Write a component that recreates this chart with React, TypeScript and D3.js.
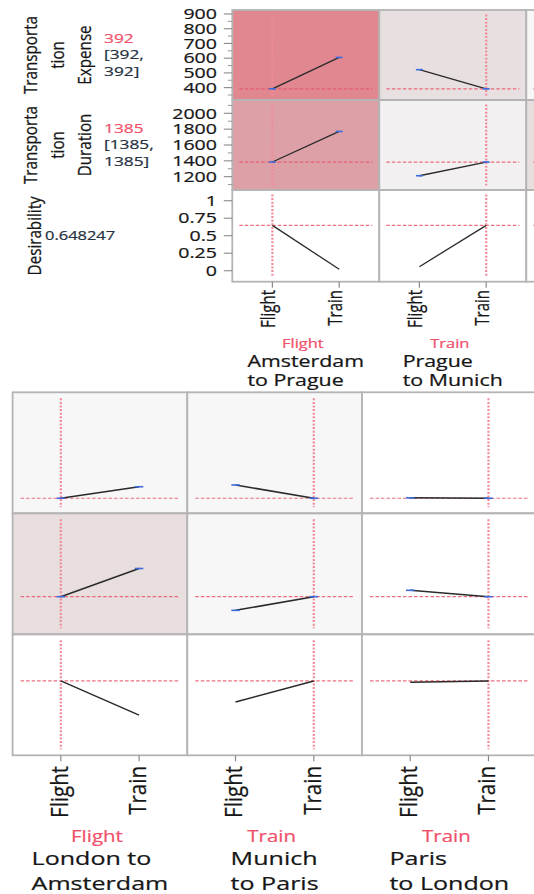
import React from "react";
import * as d3 from "d3";

// Route options and the profiler responses
const factorLines = [
  ["Amsterdam", "to Prague"],
  ["Prague", "to Munich"],
  ["London to", "Amsterdam"],
  ["Munich", "to Paris"],
  ["Paris", "to London"],
];
const modes = ["Flight", "Train"];
const currentMode = ["Flight", "Train", "Flight", "Train", "Train"];
const responseLines = [
  ["Transporta", "tion", "Expense"],
  ["Transporta", "tion", "Duration"],
  ["Desirability"],
];

// Predicted response per factor level [Flight, Train]
const expense = [[392, 605], [522, 392], [392, 450], [459, 392], [394, 392]];
const duration = [[1385, 1771], [1212, 1385], [1385, 1650], [1257, 1385], [1445, 1385]];
const desirability = [[0.648247, 0.02], [0.057, 0.648247], [0.648247, 0.278], [0.419, 0.648247], [0.633, 0.648247]];

const currentExpense = 392;
const currentDuration = 1385;
const currentDesirability = 0.648247;

const expenseDomain = [316, 927];
const durationDomain = [1032, 2168];
const desirabilityDomain = [-0.157, 1.153];

const expenseTicks = [400, 500, 600, 700, 800, 900];
const expenseMinor = [350, 450, 550, 650, 750, 850];
const durationTicks = [1200, 1400, 1600, 1800, 2000];
const durationMinor = [1100, 1300, 1500, 1700, 1900, 2100];
const desirabilityTicks = [0, 0.25, 0.5, 0.75, 1];
const desirabilityTickLabels = ["0", "0.25", "0.5", "0.75", "1"];

// Cell shading (rows: expense, duration, desirability; columns: factors)
const cellFill = [
  ["#e0878f", "#e8dfe0", "#f7f7f7", "#f7f7f7", "#ffffff"],
  ["#dca0a6", "#f3f0f1", "#e8dede", "#f7f7f7", "#ffffff"],
  ["#ffffff", "#ffffff", "#ffffff", "#ffffff", "#ffffff"],
];

const FONT = '"Open Sans", "Noto Sans", sans-serif';
const RED = "#f0506a";
const INK = "#161616";

let ctx: CanvasRenderingContext2D | null = null;
function measure(text: string, size: number) {
  if (!ctx) ctx = document.createElement("canvas").getContext("2d");
  if (!ctx) return text.length * size * 0.55;
  ctx.font = `${size}px "Open Sans"`;
  return ctx.measureText(text).width;
}

type TP = {
  x: number; y: number; sx?: number; rot?: boolean; anchor?: string;
  size: number; fill?: string; dy?: string; children: React.ReactNode;
};
const T = ({ x, y, sx = 1, rot = false, anchor = "start", size, fill = INK, dy, children }: TP) => (
  <text
    transform={`translate(${x},${y}) scale(${sx},1)${rot ? " rotate(-90)" : ""}`}
    textAnchor={anchor as any}
    fontSize={size}
    fill={fill}
    stroke={fill}
    strokeWidth={0.22}
    dy={dy}
    fontFamily={FONT}
  >
    {children}
  </text>
);

type Cfg = {
  x0: number; y0: number; colW: number; rowH: number[]; pad: number; cols: number[]; labelCols: number;
  insetX: number; insetY: number; mark: number; lineW: number;
  tickFont: number; tickSx: number; tickTop: number; tickDy: string;
  modeFont: number; modeSx: number; modeBase: number;
  nameFont: number; nameSx: number; nameBase: number; nameGap: number;
};

const rowData = [expense, duration, desirability];
const rowCurrent = [currentExpense, currentDuration, currentDesirability];
const rowDomain = [expenseDomain, durationDomain, desirabilityDomain];

function Section({ cfg }: { cfg: Cfg }) {
  const x = d3.scalePoint<string>().domain(modes).range([0, cfg.colW]).padding(cfg.pad);
  const tops = cfg.rowH.map((_, i) => cfg.y0 + d3.sum(cfg.rowH.slice(0, i)));
  const bottom = cfg.y0 + d3.sum(cfg.rowH);
  const ys = cfg.rowH.map((h, i) =>
    d3.scaleLinear().domain(rowDomain[i]).range([tops[i] + h, tops[i]])
  );
  const line = d3.line<[number, number]>().x((d) => d[0]).y((d) => d[1]);

  return (
    <g>
      {cfg.cols.map((f, ci) => {
        const px = cfg.x0 + ci * cfg.colW;
        const cx = px + (x(currentMode[f]) as number);
        const labelled = ci < cfg.labelCols;
        return (
          <g key={f}>
            {cfg.rowH.map((h, r) => {
              const y = ys[r];
              const pts: [number, number][] = modes.map((m, k) => [px + (x(m) as number), y(rowData[r][f][k])]);
              return (
                <g key={r}>
                  <rect x={px} y={tops[r]} width={cfg.colW} height={h} fill={cellFill[r][f]} />
                  <line x1={px + cfg.insetX} x2={px + cfg.colW - cfg.insetX} y1={y(rowCurrent[r])} y2={y(rowCurrent[r])}
                    stroke="#e8566b" strokeWidth={1.2} strokeDasharray="3.5 2" opacity={0.85} />
                  <line x1={cx} x2={cx} y1={tops[r] + cfg.insetY} y2={tops[r] + h - cfg.insetY}
                    stroke="#f08c9a" strokeWidth={2.2} strokeDasharray="2 1.6" />
                  <path d={line(pts) || ""} stroke="#2a2a2a" strokeWidth={cfg.lineW} fill="none" />
                  {r < 2 && pts.map((p, k) => (
                    <line key={k} x1={p[0] - cfg.mark} x2={p[0] + cfg.mark} y1={p[1]} y2={p[1]} stroke="#3d6be0" strokeWidth={1.6} />
                  ))}
                </g>
              );
            })}
            {cfg.rowH.map((h, r) => (
              <rect key={"b" + r} x={px} y={tops[r]} width={cfg.colW} height={h} fill="none" stroke="#b4b4b4" strokeWidth={1.8} />
            ))}
            {labelled && modes.map((m) => {
              const tx = px + (x(m) as number);
              return (
                <g key={m}>
                  <line x1={tx} x2={tx} y1={bottom} y2={bottom + 6} stroke="#8a8a8a" strokeWidth={1.2} />
                  <T x={tx} y={cfg.tickTop} rot sx={cfg.tickSx} anchor="end" size={cfg.tickFont} dy={cfg.tickDy}>{m}</T>
                </g>
              );
            })}
            {labelled && (
              <T x={px + cfg.colW / 2 - 3} y={cfg.modeBase} sx={cfg.modeSx} anchor="middle" size={cfg.modeFont} fill={RED}>
                {currentMode[f]}
              </T>
            )}
            {labelled && (() => {
              const w = d3.max(factorLines[f], (s) => measure(s, cfg.nameFont)) as number;
              const left = px + cfg.colW / 2 - (w * cfg.nameSx) / 2;
              return factorLines[f].map((s, k) => (
                <T key={k} x={left} y={cfg.nameBase + k * cfg.nameGap} sx={cfg.nameSx} size={cfg.nameFont}>{s}</T>
              ));
            })()}
          </g>
        );
      })}
    </g>
  );
}

const topCfg: Cfg = {
  x0: 232.3, y0: 10, colW: 147, rowH: [90, 90, 91.7], pad: 0.6, cols: [0, 1, 2], labelCols: 2,
  insetX: 7, insetY: 4.5, mark: 3.5, lineW: 1.3,
  tickFont: 15, tickSx: 1.33, tickTop: 290, tickDy: "0.12em",
  modeFont: 12, modeSx: 1.37, modeBase: 348,
  nameFont: 15.5, nameSx: 1.38, nameBase: 367, nameGap: 19.4,
};

const bottomCfg: Cfg = {
  x0: 12.6, y0: 392.3, colW: 174.7, rowH: [121, 121, 121], pad: 0.616, cols: [2, 3, 4], labelCols: 3,
  insetX: 8, insetY: 6, mark: 4.2, lineW: 1.5,
  tickFont: 20.5, tickSx: 1.12, tickTop: 766, tickDy: "0.3em",
  modeFont: 16.5, modeSx: 1.24, modeBase: 842,
  nameFont: 19, nameSx: 1.32, nameBase: 865, nameGap: 24.5,
};

function YAxis() {
  const { x0, y0, rowH } = topCfg;
  const tops = rowH.map((_, i) => y0 + d3.sum(rowH.slice(0, i)));
  const ys = rowH.map((h, i) => d3.scaleLinear().domain(rowDomain[i]).range([tops[i] + h, tops[i]]));
  const major = [expenseTicks, durationTicks, desirabilityTicks];
  const minor = [expenseMinor, durationMinor, [] as number[]];
  const labels = [expenseTicks.map(String), durationTicks.map(String), desirabilityTickLabels];
  return (
    <g>
      {major.map((ticks, r) => (
        <g key={r}>
          {ticks.map((t, k) => (
            <g key={t}>
              <line x1={x0 - 8.5} x2={x0} y1={ys[r](t)} y2={ys[r](t)} stroke="#8a8a8a" strokeWidth={1.1} />
              <T x={217} y={ys[r](t)} sx={1.35} anchor="end" size={14.5} dy="0.36em">{labels[r][k]}</T>
            </g>
          ))}
          {minor[r].map((t) => (
            <line key={"m" + t} x1={x0 - 4.5} x2={x0} y1={ys[r](t)} y2={ys[r](t)} stroke="#9a9a9a" strokeWidth={1} />
          ))}
        </g>
      ))}
    </g>
  );
}

function ResponseLabels() {
  const { y0, rowH } = topCfg;
  const tops = rowH.map((_, i) => y0 + d3.sum(rowH.slice(0, i)));
  const centers = [[31.5, 58.2, 85], [31.5, 58.2, 85], [35]];
  const valueTexts = [
    [String(currentExpense), `[${currentExpense},`, `${currentExpense}]`],
    [String(currentDuration), `[${currentDuration},`, `${currentDuration}]`],
  ];
  const valueBase = [[42.5, 59, 75.5], [132.5, 149, 165.5]];
  return (
    <g>
      {responseLines.map((lines, r) => (
        <g key={r}>
          {lines.map((s, k) => (
            <T key={k} x={centers[r][k]} y={tops[r] + rowH[r] / 2} rot sx={1.25} anchor="middle" size={15.2} dy="0.3em">{s}</T>
          ))}
        </g>
      ))}
      {valueTexts.map((vals, r) =>
        vals.map((s, k) => (
          <T key={r + "-" + k} x={104} y={valueBase[r][k]} sx={1.28} size={13.5} fill={k === 0 ? RED : "#243040"}>{s}</T>
        ))
      )}
      <T x={45} y={240} sx={1.22} size={13.5} fill="#243040">{String(currentDesirability)}</T>
    </g>
  );
}

export default function App() {
  return (
    <svg width={534} height={894} style={{ position: "absolute", left: 0, top: 0, background: "#fff" }}>
      <rect width={534} height={894} fill="#ffffff" />
      <Section cfg={topCfg} />
      <YAxis />
      <ResponseLabels />
      <Section cfg={bottomCfg} />
    </svg>
  );
}
